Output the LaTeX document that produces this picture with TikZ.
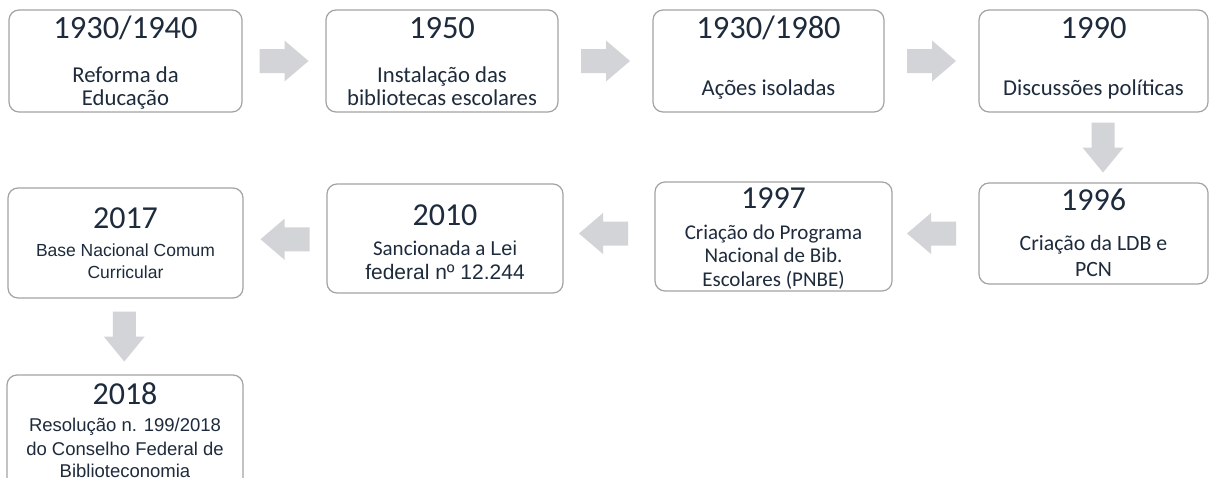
\documentclass[tikz,border=0pt]{standalone}
\usepackage{fontspec}
\setmainfont{Carlito}
\newfontfamily\arialf{Liberation Sans}
\usetikzlibrary{calc}
\definecolor{txt}{HTML}{1E2B3C}
\definecolor{bord}{HTML}{A3A3A3}
\definecolor{arr}{HTML}{D2D4D8}
\tikzset{
  box/.style={draw=bord, line width=1.2pt, rounded corners=10pt, fill=white, inner sep=0pt},
  yr/.style={text=txt, font=\fontsize{32.5}{34}\selectfont, anchor=base, inner sep=0pt},
  yrb/.style={text=txt, font=\fontsize{32}{34}\selectfont, anchor=base, inner sep=0pt},
  bd/.style={text=txt, font=\fontsize{22.7}{26}\selectfont, anchor=base, inner sep=0pt},
  bdc/.style={text=txt, font=\fontsize{21.8}{25}\selectfont, anchor=base, inner sep=0pt},
  bdm/.style={text=txt, font=\fontsize{21}{24}\selectfont, anchor=base, inner sep=0pt},
  bda/.style={text=txt, font=\arialf\fontsize{17.5}{20}\selectfont, anchor=base, inner sep=0pt},
  bdb/.style={text=txt, font=\arialf\fontsize{18.5}{21}\selectfont, anchor=base, inner sep=0pt},
  bdf/.style={text=txt, font=\arialf\fontsize{21}{24}\selectfont, anchor=base, inner sep=0pt},
  blkR/.pic={\fill[arr] (-24.5,-12) -- (0.5,-12) -- (0.5,-20.5) -- (24.5,0) -- (0.5,20.5) -- (0.5,12) -- (-24.5,12) -- cycle;},
  blkL/.pic={\fill[arr] (24.5,-12) -- (-0.5,-12) -- (-0.5,-20.5) -- (-24.5,0) -- (-0.5,20.5) -- (-0.5,12) -- (24.5,12) -- cycle;},
  blkD/.pic={\fill[arr] (-11.5,-25) -- (-11.5,0) -- (-20.5,0) -- (0,25) -- (20.5,0) -- (11.5,0) -- (11.5,-25) -- cycle;}
}
\begin{document}
\begin{tikzpicture}[x=1pt, y=-1pt]
\clip (0,0) rectangle (1209,477);
\fill[white] (0,0) rectangle (1209,477);
% boxes
\node[box, minimum width=233pt, minimum height=102pt] (b1) at (125.5,61) {};
\node[box, minimum width=232pt, minimum height=102pt] (b2) at (442,61) {};
\node[box, minimum width=231pt, minimum height=102pt] (b3) at (768.5,61) {};
\node[box, minimum width=229pt, minimum height=102pt] (b4) at (1093.5,61) {};
\node[box, minimum width=229pt, minimum height=101pt] (b5) at (1093.5,233.5) {};
\node[box, minimum width=237pt, minimum height=109pt] (b6) at (773.5,236.5) {};
\node[box, minimum width=236pt, minimum height=109pt] (b7) at (445,238.5) {};
\node[box, minimum width=235pt, minimum height=110pt] (b8) at (125.5,243) {};
\node[box, minimum width=236pt, minimum height=115pt] (b9) at (125,432.5) {};
% block arrows
\pic at ($(b1.east)!0.5!(b2.west)$) {blkR};
\pic at ($(b2.east)!0.5!(b3.west)$) {blkR};
\pic at ($(b3.east)!0.5!(b4.west)$) {blkR};
\pic at ($(b4.south)!0.5!(b5.north)+(9.5,0)$) {blkD};
\pic at ($(b5.west)!0.5!(b6.east)+(-4,-1.5)$) {blkL};
\pic at ($(b6.west)!0.5!(b7.east)+(-5.5,-4)$) {blkL};
\pic at ($(b7.west)!0.5!(b8.east)+(0,-1.5)$) {blkL};
\pic at ($(b8.south)!0.5!(b9.north)+(-1,0)$) {blkD};
% texts row 1
\node[yr] (y1) at (125.5,38) {1930/1940};
\node[bd] (t1a) at (125.5,82) {Reforma da};
\node[bd] (t1b) at (125.5,105) {Educação};
\node[yr] (y2) at (442,38) {1950};
\node[bd] (t2a) at (442,82) {Instalação das};
\node[bd] (t2b) at (442,105) {bibliotecas escolares};
\node[yr] (y3) at (768.5,38) {1930/1980};
\node[bd] (t3a) at (768.5,95) {Ações isoladas};
\node[yr] (y4) at (1093.5,38) {1990};
\node[bd] (t4a) at (1093.5,95) {Discussões políticas};
% row 2
\node[yrb] (y5) at (1093.5,210) {1996};
\node[bdc] (t5a) at (1093.5,250) {Criação da LDB e};
\node[bdc] (t5b) at (1093.5,276) {PCN};
\node[yrb] (y6) at (773.5,208) {1997};
\node[bdm] (t6a) at (773.5,239) {Criação do Programa};
\node[bdm] (t6b) at (773.5,262) {Nacional de Bib.};
\node[bdm] (t6c) at (773.5,286) {Escolares (PNBE)};
\node[yrb] (y7) at (445,225) {2010};
\node[bdm] (t7a) at (445,255) {Sancionada a {\arialf\fontsize{20}{22}\selectfont Lei}};
\node[bdf] (t7b) at (445,279) {federal nº 12.244};
\node[yrb] (y8) at (125.5,228) {2017};
\node[bda] (t8a) at (125.5,256) {Base Nacional Comum};
\node[bda] (t8b) at (125.5,278) {Curricular};
% row 3
\node[yrb] (y9) at (125,404) {2018};
\node[bdb] (t9a) at (125,431) {Resolução n. 199/2018};
\node[bdb] (t9b) at (125,455) {do Conselho Federal de};
\node[bdb] (t9c) at (125,477) {Biblioteconomia};
\end{tikzpicture}
\end{document}
